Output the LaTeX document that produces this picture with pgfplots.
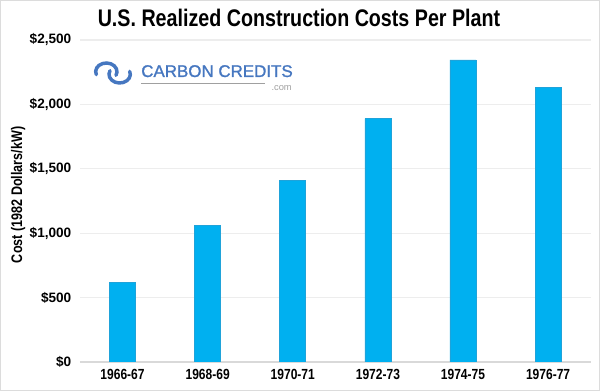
\documentclass[border=0pt]{standalone}
\usepackage{fontspec}
\setmainfont{Liberation Sans}
\newfontfamily\narrowfont[FakeStretch=0.82]{Liberation Sans}
\newfontfamily\logofont[FakeBold=1.3]{Liberation Sans}
\usepackage{pgfplots}
\pgfplotsset{compat=1.18}
\definecolor{barblue}{HTML}{00B0F0}
\definecolor{baredge}{HTML}{1FA3DA}
\definecolor{gridgray}{HTML}{EDEDED}
\definecolor{basegray}{HTML}{D9D9D9}
\definecolor{framegray}{HTML}{DCDCDC}
\definecolor{logoblue}{HTML}{4677C0}
\definecolor{logogray}{HTML}{A0A0A0}
\begin{document}
\begin{tikzpicture}
\begin{axis}[
  at={(60pt,21.75pt)}, anchor=south west,
  scale only axis, width=383pt, height=241.5pt,
  xmin=-0.5, xmax=5.5, ymin=0, ymax=2500,
  ybar, bar width=19.5pt,
  xtick={0,1,2,3,4,5},
  xticklabels={1966-67,1968-69,1970-71,1972-73,1974-75,1976-77},
  ytick={0,500,1000,1500,2000,2500},
  yticklabels={\$0,\$500,{\$1,000},{\$1,500},{\$2,000},{\$2,500}},
  major tick length=0pt,
  axis x line*=bottom, axis y line*=left,
  x axis line style={draw=basegray, line width=0.8pt},
  y axis line style={draw=none},
  ymajorgrids, grid style={draw=gridgray, line width=0.8pt},
  xticklabel style={font=\narrowfont\bfseries\fontsize{11}{13}\selectfont, yshift=-2pt},
  yticklabel style={font=\bfseries\fontsize{10.2}{12}\selectfont, xshift=-3pt},
  ylabel={Cost (1982 Dollars/kW)},
  every axis y label/.style={at={(axis description cs:-0.1213,0.519)}, rotate=90, anchor=center, font=\narrowfont\bfseries\fontsize{11.5}{13}\selectfont},
]
\addplot[fill=barblue, draw=baredge, line width=0.5pt] coordinates {(0,620) (1,1060) (2,1410) (3,1890) (4,2345) (5,2135)};
\end{axis}
% title
\node[font=\narrowfont\bfseries\fontsize{18}{21}\selectfont] at (224.25pt,279.75pt) {U.S. Realized Construction Costs Per Plant};
% logo
\node[anchor=base west, inner sep=0pt, text=logoblue, font=\logofont\fontsize{12.7}{14}\selectfont] at (105.75pt,235.5pt) {CARBON CREDITS};
\draw[logogray, line width=1.1pt] (105.75pt,230.6pt) -- (199pt,230.6pt);
\node[anchor=base east, inner sep=0pt, text=logogray, font=\fontsize{7}{8}\selectfont] at (219pt,225.5pt) {.com};
\begin{scope}[shift={(84.75pt,238.5pt)}, logoblue, line width=2.6pt, line cap=round]
  \draw ([shift={(200:8pt and 6.5pt)}]-5pt,1pt) arc[start angle=200, end angle=-25, x radius=8pt, y radius=6.5pt];
  \draw ([shift={(20:8pt and 6.5pt)}]5pt,-1pt) arc[start angle=20, end angle=-205, x radius=8pt, y radius=6.5pt];
\end{scope}
% frame
\draw[framegray, line width=1pt] (0.5pt,0.5pt) rectangle (449.5pt,292.75pt);
\pgfresetboundingbox
\path[use as bounding box] (0,0) rectangle (450pt,293.25pt);
\end{tikzpicture}
\end{document}
